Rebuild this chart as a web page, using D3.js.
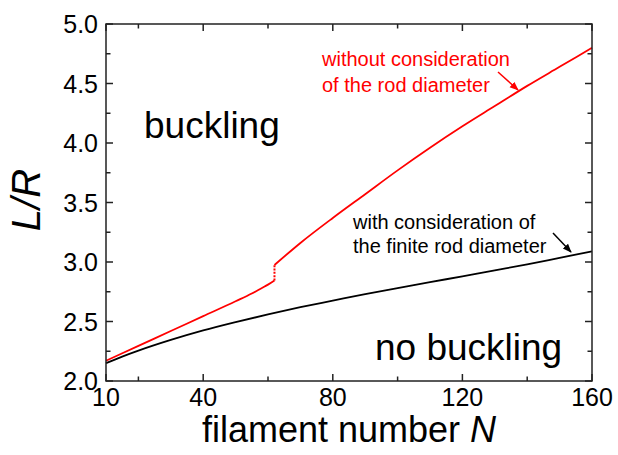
<!DOCTYPE html>
<html><head><meta charset="utf-8">
<script src="https://cdn.jsdelivr.net/npm/d3@7"></script>
<style>body{margin:0;background:#fff}svg{display:block}text{font-family:"Liberation Sans",Arial,Helvetica,sans-serif}</style>
</head><body><svg id="c" width="618" height="455"></svg>
<script>
// ---- data ----
const nBlack  = [10,15,20,30,40,50,60,70,80,90,100,110,120,130,140,150,160];
const lrBlack = [2.15,2.205,2.255,2.345,2.425,2.495,2.56,2.62,2.675,2.73,2.78,2.83,2.88,2.93,2.98,3.035,3.09];
const nRedLow  = [10,20,30,40,50,55,58,60,62];
const lrRedLow = [2.17,2.295,2.42,2.545,2.67,2.735,2.78,2.81,2.845];
const nRedHigh  = [62,70,80,90,100,110,120,130,140,150,160];
const lrRedHigh = [2.975,3.16,3.37,3.57,3.77,3.96,4.14,4.31,4.48,4.64,4.80];
const nJump  = [62,62];
const lrJump = [2.845,2.975];
const xMajor = [10,40,80,120,160];
const xMinor = [20,60,100,140];
const yMajor = [2.0,2.5,3.0,3.5,4.0,4.5,5.0];
const yMinor = [2.25,2.75,3.25,3.75,4.25,4.75];

const svg = d3.select("#c");
const L=106, R=592, T=24, B=381;
const x = d3.scaleLinear().domain([10,160]).range([L,R]);
const y = d3.scaleLinear().domain([2,5]).range([B,T]);

const defs = svg.append("defs");
function marker(id,color){
  defs.append("marker").attr("id",id).attr("viewBox","0 0 10 10").attr("refX",9).attr("refY",5)
    .attr("markerWidth",9).attr("markerHeight",9).attr("markerUnits","userSpaceOnUse").attr("orient","auto")
    .append("path").attr("d","M0,1 L10,5 L0,9 Z").attr("fill",color);
}
marker("ar","#ff0000"); marker("ab","#000");

// curves
const line = d3.line().x(d=>x(d[0])).y(d=>y(d[1])).curve(d3.curveMonotoneX);
const zip=(a,b)=>a.map((v,i)=>[v,b[i]]);
svg.append("path").attr("d",line(zip(nBlack,lrBlack))).attr("fill","none").attr("stroke","#000").attr("stroke-width",1.8);
svg.append("path").attr("d",line(zip(nRedLow,lrRedLow))).attr("fill","none").attr("stroke","#ff0000").attr("stroke-width",1.8);
svg.append("path").attr("d",line(zip(nRedHigh,lrRedHigh))).attr("fill","none").attr("stroke","#ff0000").attr("stroke-width",1.8);
svg.append("path").attr("d",d3.line().x(d=>x(d[0])).y(d=>y(d[1]))(zip(nJump,lrJump)))
  .attr("fill","none").attr("stroke","#ff0000").attr("stroke-width",2).attr("stroke-dasharray","2,1.3");

// axes (frame with inward ticks)
const ax = svg.append("g").attr("stroke","#222").attr("stroke-width",1.5);
ax.append("rect").attr("x",L).attr("y",T).attr("width",R-L).attr("height",B-T).attr("fill","none");
function ticksX(vals,len){
  vals.forEach(v=>{
    ax.append("line").attr("x1",x(v)).attr("x2",x(v)).attr("y1",B).attr("y2",B-len);
    ax.append("line").attr("x1",x(v)).attr("x2",x(v)).attr("y1",T).attr("y2",T+len);
  });
}
function ticksY(vals,len){
  vals.forEach(v=>{
    ax.append("line").attr("y1",y(v)).attr("y2",y(v)).attr("x1",L).attr("x2",L+len);
    ax.append("line").attr("y1",y(v)).attr("y2",y(v)).attr("x1",R).attr("x2",R-len);
  });
}
ticksX(xMajor,7); ticksX(xMinor,4.5); ticksY(yMajor,7); ticksY(yMinor,4.5);

const fmt = d3.format(".1f");
svg.append("g").selectAll("text").data(xMajor).join("text")
  .attr("x",d=>x(d)).attr("y",406).attr("text-anchor","middle").attr("font-size",25).text(d=>d);
svg.append("g").selectAll("text").data(yMajor).join("text")
  .attr("x",98).attr("y",d=>y(d)+9).attr("text-anchor","end").attr("font-size",25).text(d=>fmt(d));

// axis titles
const xt = svg.append("text").attr("x",(L+R)/2).attr("y",442).attr("text-anchor","middle").attr("font-size",36);
xt.append("tspan").text("filament number ");
xt.append("tspan").attr("font-style","italic").text("N");
svg.append("text").attr("transform","translate(40,200) rotate(-90)").attr("text-anchor","middle")
  .attr("font-size",40).attr("font-style","italic").text("L/R");

// region labels
svg.append("text").attr("x",144).attr("y",138).attr("font-size",37).text("buckling");
svg.append("text").attr("x",375).attr("y",360).attr("font-size",37).text("no buckling");

// annotations
const ra = svg.append("g").attr("fill","#ff0000").attr("font-size",20);
ra.append("text").attr("x",322).attr("y",66).text("without consideration");
ra.append("text").attr("x",322).attr("y",92).text("of the rod diameter");
svg.append("line").attr("x1",498).attr("y1",72).attr("x2",518).attr("y2",90)
  .attr("stroke","#ff0000").attr("stroke-width",1.5).attr("marker-end","url(#ar)");
const ba = svg.append("g").attr("fill","#000").attr("font-size",20);
ba.append("text").attr("x",353).attr("y",229).text("with consideration of");
ba.append("text").attr("x",353).attr("y",253).text("the finite rod diameter");
svg.append("line").attr("x1",553).attr("y1",233).attr("x2",571).attr("y2",252)
  .attr("stroke","#000").attr("stroke-width",1.5).attr("marker-end","url(#ab)");
</script></body></html>
